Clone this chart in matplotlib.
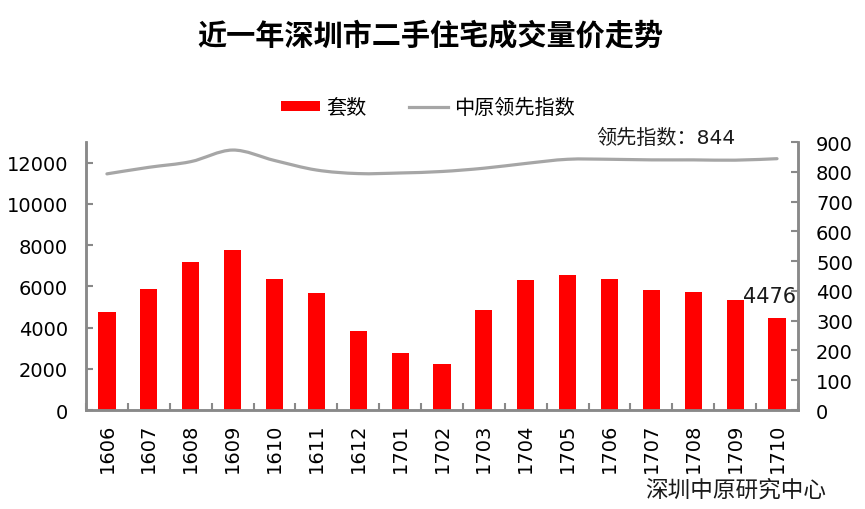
import matplotlib
matplotlib.use("Agg")
import matplotlib.pyplot as plt
import numpy as np
from matplotlib.path import Path
from matplotlib.patches import PathPatch, Patch
from matplotlib.lines import Line2D

plt.rcParams['font.family'] = ['DejaVu Sans', 'Noto Sans CJK SC']

months = ['1606', '1607', '1608', '1609', '1610', '1611', '1612', '1701', '1702',
          '1703', '1704', '1705', '1706', '1707', '1708', '1709', '1710']
units = [4740, 5850, 7160, 7740, 6340, 5660, 3820, 2760, 2230,
         4840, 6290, 6530, 6340, 5810, 5710, 5320, 4476]
index_vals = [793, 815, 834, 873, 838, 806, 794, 796, 801,
              812, 828, 842, 842, 840, 840, 839, 844]
left_ticks = [0, 2000, 4000, 6000, 8000, 10000, 12000]
right_ticks = [0, 100, 200, 300, 400, 500, 600, 700, 800, 900]

RED = '#FF0000'
GRAY_LINE = '#A6A6A6'
SPINE = '#898989'

fig = plt.figure(figsize=(8.65, 5.10), dpi=100)
ax = fig.add_axes([0.0994, 0.194, 0.8231, 0.5256])
ax2 = ax.twinx()

x = np.arange(len(months))
ax.bar(x, units, width=0.41, color=RED, zorder=2)
ax.set_xlim(-0.5, len(months) - 0.5)
ax.set_ylim(0, 13000)
ax.set_yticks(left_ticks)
ax.set_xticks(x)
ax.set_xticklabels(months, rotation=90, fontsize=14)
ax.set_xticks(np.arange(-0.5, len(months), 1.0), minor=True)
ax.tick_params(axis='x', which='major', length=0, pad=9)
ax.tick_params(axis='x', which='minor', direction='in', length=5, width=1.5, color=SPINE)
ax.tick_params(axis='y', direction='in', length=5, width=1.5, color=SPINE, labelsize=14, pad=13)

ax2.set_ylim(0, 900)
ax2.set_yticks(right_ticks)
ax2.tick_params(axis='y', direction='in', length=5, width=1.5, color=SPINE, labelsize=14, pad=13)

for a in (ax, ax2):
    a.spines['top'].set_visible(False)
    for s in ('left', 'right', 'bottom'):
        a.spines[s].set_color(SPINE)
        a.spines[s].set_linewidth(1.8)

# smoothed line (Catmull-Rom Bezier through the data points)
pts = np.column_stack([x, index_vals]).astype(float)
verts = [tuple(pts[0])]
codes = [Path.MOVETO]
n = len(pts)
for i in range(n - 1):
    p0 = pts[i - 1] if i > 0 else pts[i]
    p1 = pts[i]
    p2 = pts[i + 1]
    p3 = pts[i + 2] if i + 2 < n else pts[i + 1]
    c1 = p1 + (p2 - p0) / 6.0
    c2 = p2 - (p3 - p1) / 6.0
    verts += [tuple(c1), tuple(c2), tuple(p2)]
    codes += [Path.CURVE4] * 3
ax2.add_patch(PathPatch(Path(verts, codes), facecolor='none', edgecolor=GRAY_LINE,
                        lw=2.3, capstyle='round', zorder=3))

ax2.text(15.0, 917, '领先指数：844', ha='right', va='center', fontsize=14.5,
         color='#1a1a1a')
ax.text(x[-1] + 0.45, units[-1] + 550, '4476', ha='right', va='bottom', fontsize=15,
        color='#1a1a1a')

fig.text(0.497, 0.930, '近一年深圳市二手住宅成交量价走势', ha='center', va='center',
         fontsize=21, fontweight='bold', family=['Noto Sans CJK SC', 'DejaVu Sans'])
fig.text(0.955, 0.038, '深圳中原研究中心', ha='right', va='center', fontsize=16.3,
         family=['Noto Sans CJK SC', 'DejaVu Sans'], color='#1a1a1a')

handles = [Patch(facecolor=RED, edgecolor='none'),
           Line2D([0], [0], color=GRAY_LINE, lw=2.3)]
fig.legend(handles, ['套数', '中原领先指数'], loc='center', bbox_to_anchor=(0.495, 0.787),
           ncol=2, frameon=False, handlelength=1.95, handleheight=0.45,
           columnspacing=2.1, handletextpad=0.3,
           prop={'family': ['Noto Sans CJK SC', 'DejaVu Sans'], 'size': 14.5})

fig.savefig('out.png', dpi=100)
